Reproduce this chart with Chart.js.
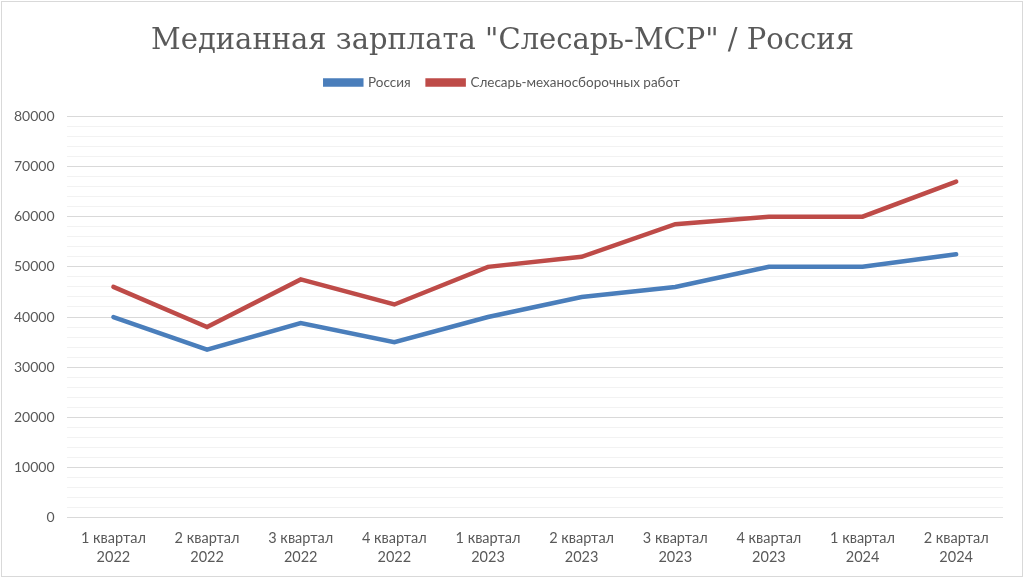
<!DOCTYPE html>
<html>
<head>
<meta charset="utf-8">
<script src="https://cdn.jsdelivr.net/npm/chart.js@4"></script>
<style>
    html, body { margin: 0; padding: 0; background: #fff; }
    #wrap { position: relative; width: 1020px; height: 574px; border: 1px solid #d9d9d9; margin: 1px; box-sizing: content-box; }
</style>
</head>
<body>
<div id="wrap"><canvas id="chart"></canvas></div>
<script>
    // Data
    const quarters = [["1 квартал", "2022"], ["2 квартал", "2022"], ["3 квартал", "2022"], ["4 квартал", "2022"],
                      ["1 квартал", "2023"], ["2 квартал", "2023"], ["3 квартал", "2023"], ["4 квартал", "2023"],
                      ["1 квартал", "2024"], ["2 квартал", "2024"]];
    const russia = [40000, 33500, 38800, 35000, 40000, 44000, 46000, 50000, 50000, 52500];
    const fitter = [46000, 38000, 47500, 42500, 50000, 52000, 58500, 60000, 60000, 67000];

    // extra room under the legend
    const legendSpacer = {
        id: "legendSpacer",
        afterInit(chart) {
            const fit = chart.legend.fit;
            chart.legend.fit = function () {
                fit.call(this);
                this.height += 17;
            };
        }
    };

    new Chart(document.getElementById("chart"), {
        type: "line",
        data: {
            labels: quarters,
            datasets: [
                { label: "Россия", data: russia, borderColor: "#4a7ebb", backgroundColor: "#4a7ebb",
                  borderWidth: 4.5, pointRadius: 0, tension: 0, borderCapStyle: "round" },
                { label: "Слесарь-механосборочных работ", data: fitter, borderColor: "#be4b48", backgroundColor: "#be4b48",
                  borderWidth: 4.5, pointRadius: 0, tension: 0, borderCapStyle: "round" }
            ]
        },
        options: {
            responsive: true,
            maintainAspectRatio: false,
            animation: false,
            layout: { padding: { left: 0, right: 19, top: 4, bottom: 6 } },
            plugins: {
                title: {
                    display: true,
                    text: "Медианная зарплата \"Слесарь-МСР\" / Россия",
                    color: "#595959",
                    font: { family: "DejaVu Serif", size: 29, weight: "normal" },
                    padding: { top: 18, bottom: 0 }
                },
                legend: {
                    labels: {
                        color: "#595959",
                        font: { family: "Lato", size: 13.5 },
                        boxWidth: 36,
                        boxHeight: 4,
                        padding: 17
                    }
                },
                tooltip: { enabled: false }
            },
            scales: {
                x: {
                    offset: true,
                    grid: { display: false, offset: true },
                    border: { display: false },
                    ticks: { color: "#595959", font: { family: "Lato", size: 14.5, lineHeight: 1.25 }, maxRotation: 0, padding: 4 }
                },
                y: {
                    min: 0,
                    max: 80000,
                    border: { display: false },
                    grid: {
                        drawTicks: false,
                        color: ctx => ctx.tick && ctx.tick.value % 10000 === 0 ? "#d9d9d9" : "#f2f2f2"
                    },
                    ticks: {
                        stepSize: 2000,
                        autoSkip: false,
                        color: "#595959",
                        font: { family: "Lato", size: 14 },
                        padding: 12,
                        callback: v => v % 10000 === 0 ? String(v) : ""
                    }
                }
            }
        },
        plugins: [legendSpacer]
    });
</script>
</body>
</html>
